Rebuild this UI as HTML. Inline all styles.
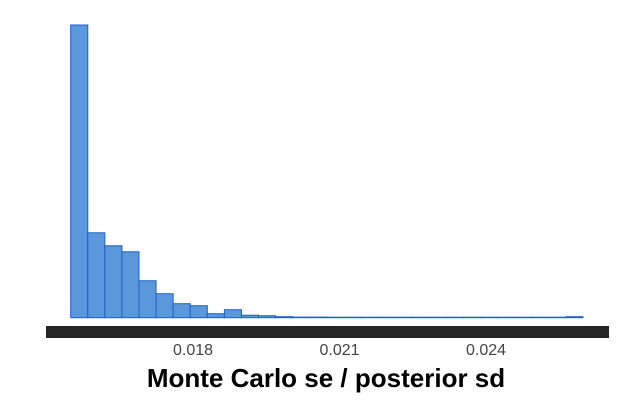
<!DOCTYPE html>
<html><head><meta charset="utf-8"><style>
html,body{margin:0;padding:0;background:#fff;}
svg{display:block;font-family:"Liberation Sans",sans-serif;}
</style></head><body>
<svg id="chart" width="620" height="400" viewBox="0 0 620 400">
<rect x="46" y="326" width="563" height="12" fill="#262626"/>
<g id="bars"></g>
<g id="ticks"></g>
<text x="326" y="387" text-anchor="middle" font-size="26" font-weight="bold" fill="#000">Monte Carlo se / posterior sd</text>
</svg>
<script>
const counts = [293, 85, 72, 66, 37, 24, 14, 12, 4, 8, 2.5, 2, 1, 0.6, 0.6, 0.5, 0.5, 0.5, 0.5, 0.5, 0.5, 0.5, 0.5, 0.5, 0.5, 0.5, 0.5, 0.5, 0.5, 1];
const binStart = 0.015495;
const binWidth = 0.0003497;
const tickValues = [0.018, 0.021, 0.024];
const tickLabels = ["0.018", "0.021", "0.024"];

const NS = "http://www.w3.org/2000/svg";
const pxPerUnit = 48830;
const x = v => 70.7 + (v - binStart) * pxPerUnit;
const baseY = 317.7;
const maxC = Math.max(...counts);
const y = c => baseY - c / maxC * (baseY - 25);

const gb = document.getElementById('bars');
counts.forEach((c, i) => {
  const x0 = x(binStart + i * binWidth), x1 = x(binStart + (i + 1) * binWidth);
  const r = document.createElementNS(NS, 'rect');
  
  
  r.setAttribute('x', x0);
  r.setAttribute('y', y(c));
  r.setAttribute('width', x1 - x0);
  r.setAttribute('height', baseY - y(c));
  r.setAttribute('fill', '#5a98db');
  r.setAttribute('stroke', '#1f5fc7');
  r.setAttribute('stroke-width', '1');
  gb.appendChild(r);
});
const gt = document.getElementById('ticks');
tickValues.forEach((v, i) => {
  const t = document.createElementNS(NS, 'text');
  
  
  t.setAttribute('x', x(v));
  t.setAttribute('y', 355);
  t.setAttribute('text-anchor', 'middle');
  t.setAttribute('font-size', '16');
  t.setAttribute('fill', '#444');
  t.textContent = tickLabels[i];
  gt.appendChild(t);
});
</script>
</body></html>
